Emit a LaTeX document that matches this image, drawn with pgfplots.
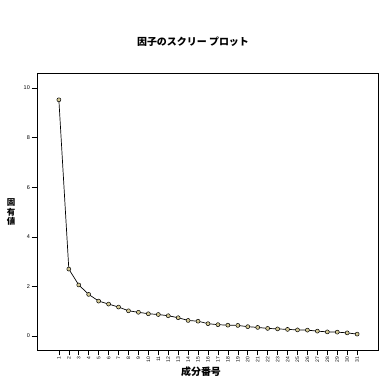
\documentclass[border=0pt]{standalone}
\usepackage{fontspec}
\setmainfont{Liberation Sans}
\newfontfamily\cjk{Noto Sans CJK JP}
\usepackage{pgfplots}
\pgfplotsset{compat=1.18}
\definecolor{markfill}{RGB}{212,202,150}
\pgfplotstableread{
n v
1 9.52
2 2.70
3 2.06
4 1.68
5 1.41
6 1.29
7 1.17
8 1.02
9 0.96
10 0.90
11 0.87
12 0.82
13 0.74
14 0.63
15 0.60
16 0.50
17 0.46
18 0.44
19 0.43
20 0.38
21 0.35
22 0.31
23 0.29
24 0.27
25 0.25
26 0.24
27 0.20
28 0.17
29 0.16
30 0.13
31 0.08
}\eig
\begin{document}
\begin{tikzpicture}[x=1bp,y=1bp]
\useasboundingbox (0,0) rectangle (388,388);
\begin{axis}[at={(37bp,38bp)}, anchor=south west, scale only axis,
  width=341bp, height=277bp,
  xmin=-1.2, xmax=33.1, ymin=-0.56, ymax=10.6,
  xtick={1,...,31}, ytick={0,2,4,6,8,10},
  axis line style={line width=0.8bp},
  tick style={black, line width=0.6bp},
  tick align=outside, xtick pos=bottom, ytick pos=left,
  major tick length=5.5bp,
  /pgf/number format/assume math mode=true,
  x tick label style={rotate=90, anchor=east, font=\fontsize{5}{6}\selectfont, inner sep=1bp},
  y tick label style={font=\fontsize{5.5}{6}\selectfont, inner sep=1.5bp},
]
\addplot[black, line width=0.7bp, mark=*, mark size=2bp,
  mark options={fill=markfill, draw=black, line width=0.5bp}] table[x=n,y=v] {\eig};
\end{axis}
\node[font=\cjk\bfseries\fontsize{10}{12}\selectfont] at (193,346) {因子のスクリー プロット};
\node[font=\cjk\bfseries\fontsize{8.5}{9.5}\selectfont, align=center, inner sep=0] at (11,176) {固\\有\\値};
\node[font=\cjk\bfseries\fontsize{10}{12}\selectfont] at (201,16) {成分番号};
\end{tikzpicture}
\end{document}
